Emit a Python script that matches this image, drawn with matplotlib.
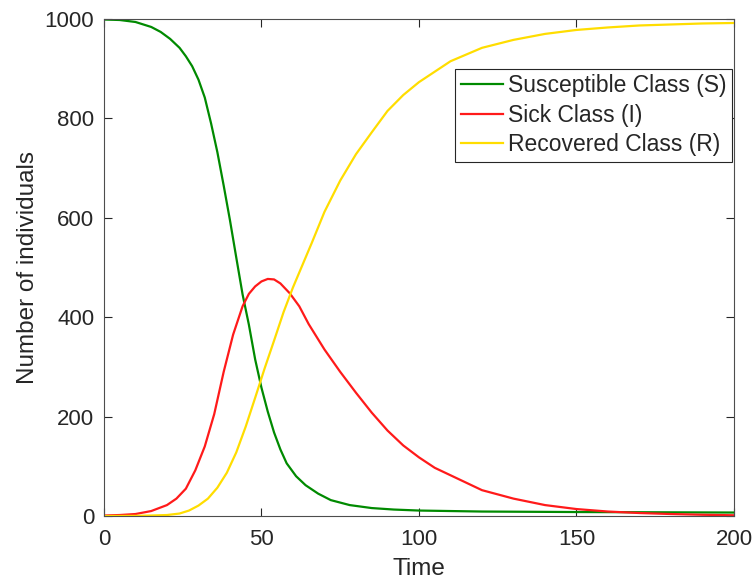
import matplotlib
matplotlib.use("Agg")
import matplotlib.pyplot as plt

# valores (modelo SIR)
t_s = [0, 5, 10, 15, 18, 21, 24, 26, 28, 30, 32, 34, 36, 38, 40, 42, 44, 46, 48,
       50, 52, 54, 56, 58, 61, 64, 68, 72, 78, 85, 92, 100, 120, 150, 200]
S = [999, 998, 994, 984, 974, 960, 942, 925, 905, 878, 842, 790, 732, 665, 595,
     520, 446, 385, 315, 258, 210, 168, 134, 106, 80, 62, 45, 32, 22, 16, 13, 11,
     9, 8, 7]

t_i = [0, 5, 10, 15, 20, 23, 26, 29, 32, 35, 38, 41, 44, 46, 48, 50, 52, 54, 56,
       59, 62, 65, 70, 75, 80, 85, 90, 95, 100, 105, 110, 120, 130, 140, 150, 160,
       170, 180, 190, 200]
I = [1, 2, 4, 10, 22, 35, 55, 92, 140, 205, 290, 365, 422, 447, 462, 472, 477,
     476, 468, 448, 422, 386, 335, 290, 248, 208, 172, 142, 118, 97, 82, 52, 35,
     22, 14, 9, 6, 4, 2.5, 1.5]

t_r = [0, 10, 15, 20, 24, 27, 30, 33, 36, 39, 42, 45, 48, 51, 54, 57, 60, 63, 66,
       70, 75, 80, 85, 90, 95, 100, 110, 120, 130, 140, 150, 160, 170, 180, 190, 200]
R = [0, 0.3, 1, 2, 5, 11, 21, 35, 57, 87, 128, 180, 238, 297, 353, 410, 460, 505,
     550, 612, 675, 728, 772, 815, 847, 873, 915, 942, 958, 970, 978, 983, 987,
     989, 991, 992]

labels = ["Susceptible Class (S)", "Sick Class (I)", "Recovered Class (R)"]
colores = ["#008a00", "#ff1a1a", "#ffdd00"]
gris = "#262626"

plt.rcParams["font.family"] = ["Liberation Sans", "DejaVu Sans"]

fig = plt.figure(figsize=(7.55, 5.83), dpi=100)
ax = fig.add_axes([0.1377, 0.1149, 0.8345, 0.8525])

ax.plot(t_s, S, color=colores[0], lw=1.6, label=labels[0])
ax.plot(t_i, I, color=colores[1], lw=1.6, label=labels[1])
ax.plot(t_r, R, color=colores[2], lw=1.6, label=labels[2])

ax.set_xlim(0, 200)
ax.set_ylim(0, 1000)
ax.set_xticks([0, 50, 100, 150, 200])
ax.set_yticks([0, 200, 400, 600, 800, 1000])
ax.tick_params(direction="in", top=True, right=True, length=6, width=0.8,
               labelsize=16, colors=gris, pad=7)
ax.tick_params(axis="x", pad=9)
for sp in ax.spines.values():
    sp.set_color("#4d4d4d")
    sp.set_linewidth(0.8)

ax.set_xlabel("Time", fontsize=17.5, color=gris, labelpad=6)
ax.set_ylabel("Number of individuals", fontsize=17.5, color=gris, labelpad=4)

leg = ax.legend(loc="upper right", bbox_to_anchor=(0.997, 0.9), borderaxespad=0,
                fontsize=16.5, fancybox=False, handlelength=1.85, handletextpad=0.2,
                labelspacing=0.28, borderpad=0.25, framealpha=1)
leg.get_frame().set_edgecolor(gris)
leg.get_frame().set_linewidth(0.8)
for txt in leg.get_texts():
    txt.set_color(gris)

fig.savefig("out.png", dpi=100)
